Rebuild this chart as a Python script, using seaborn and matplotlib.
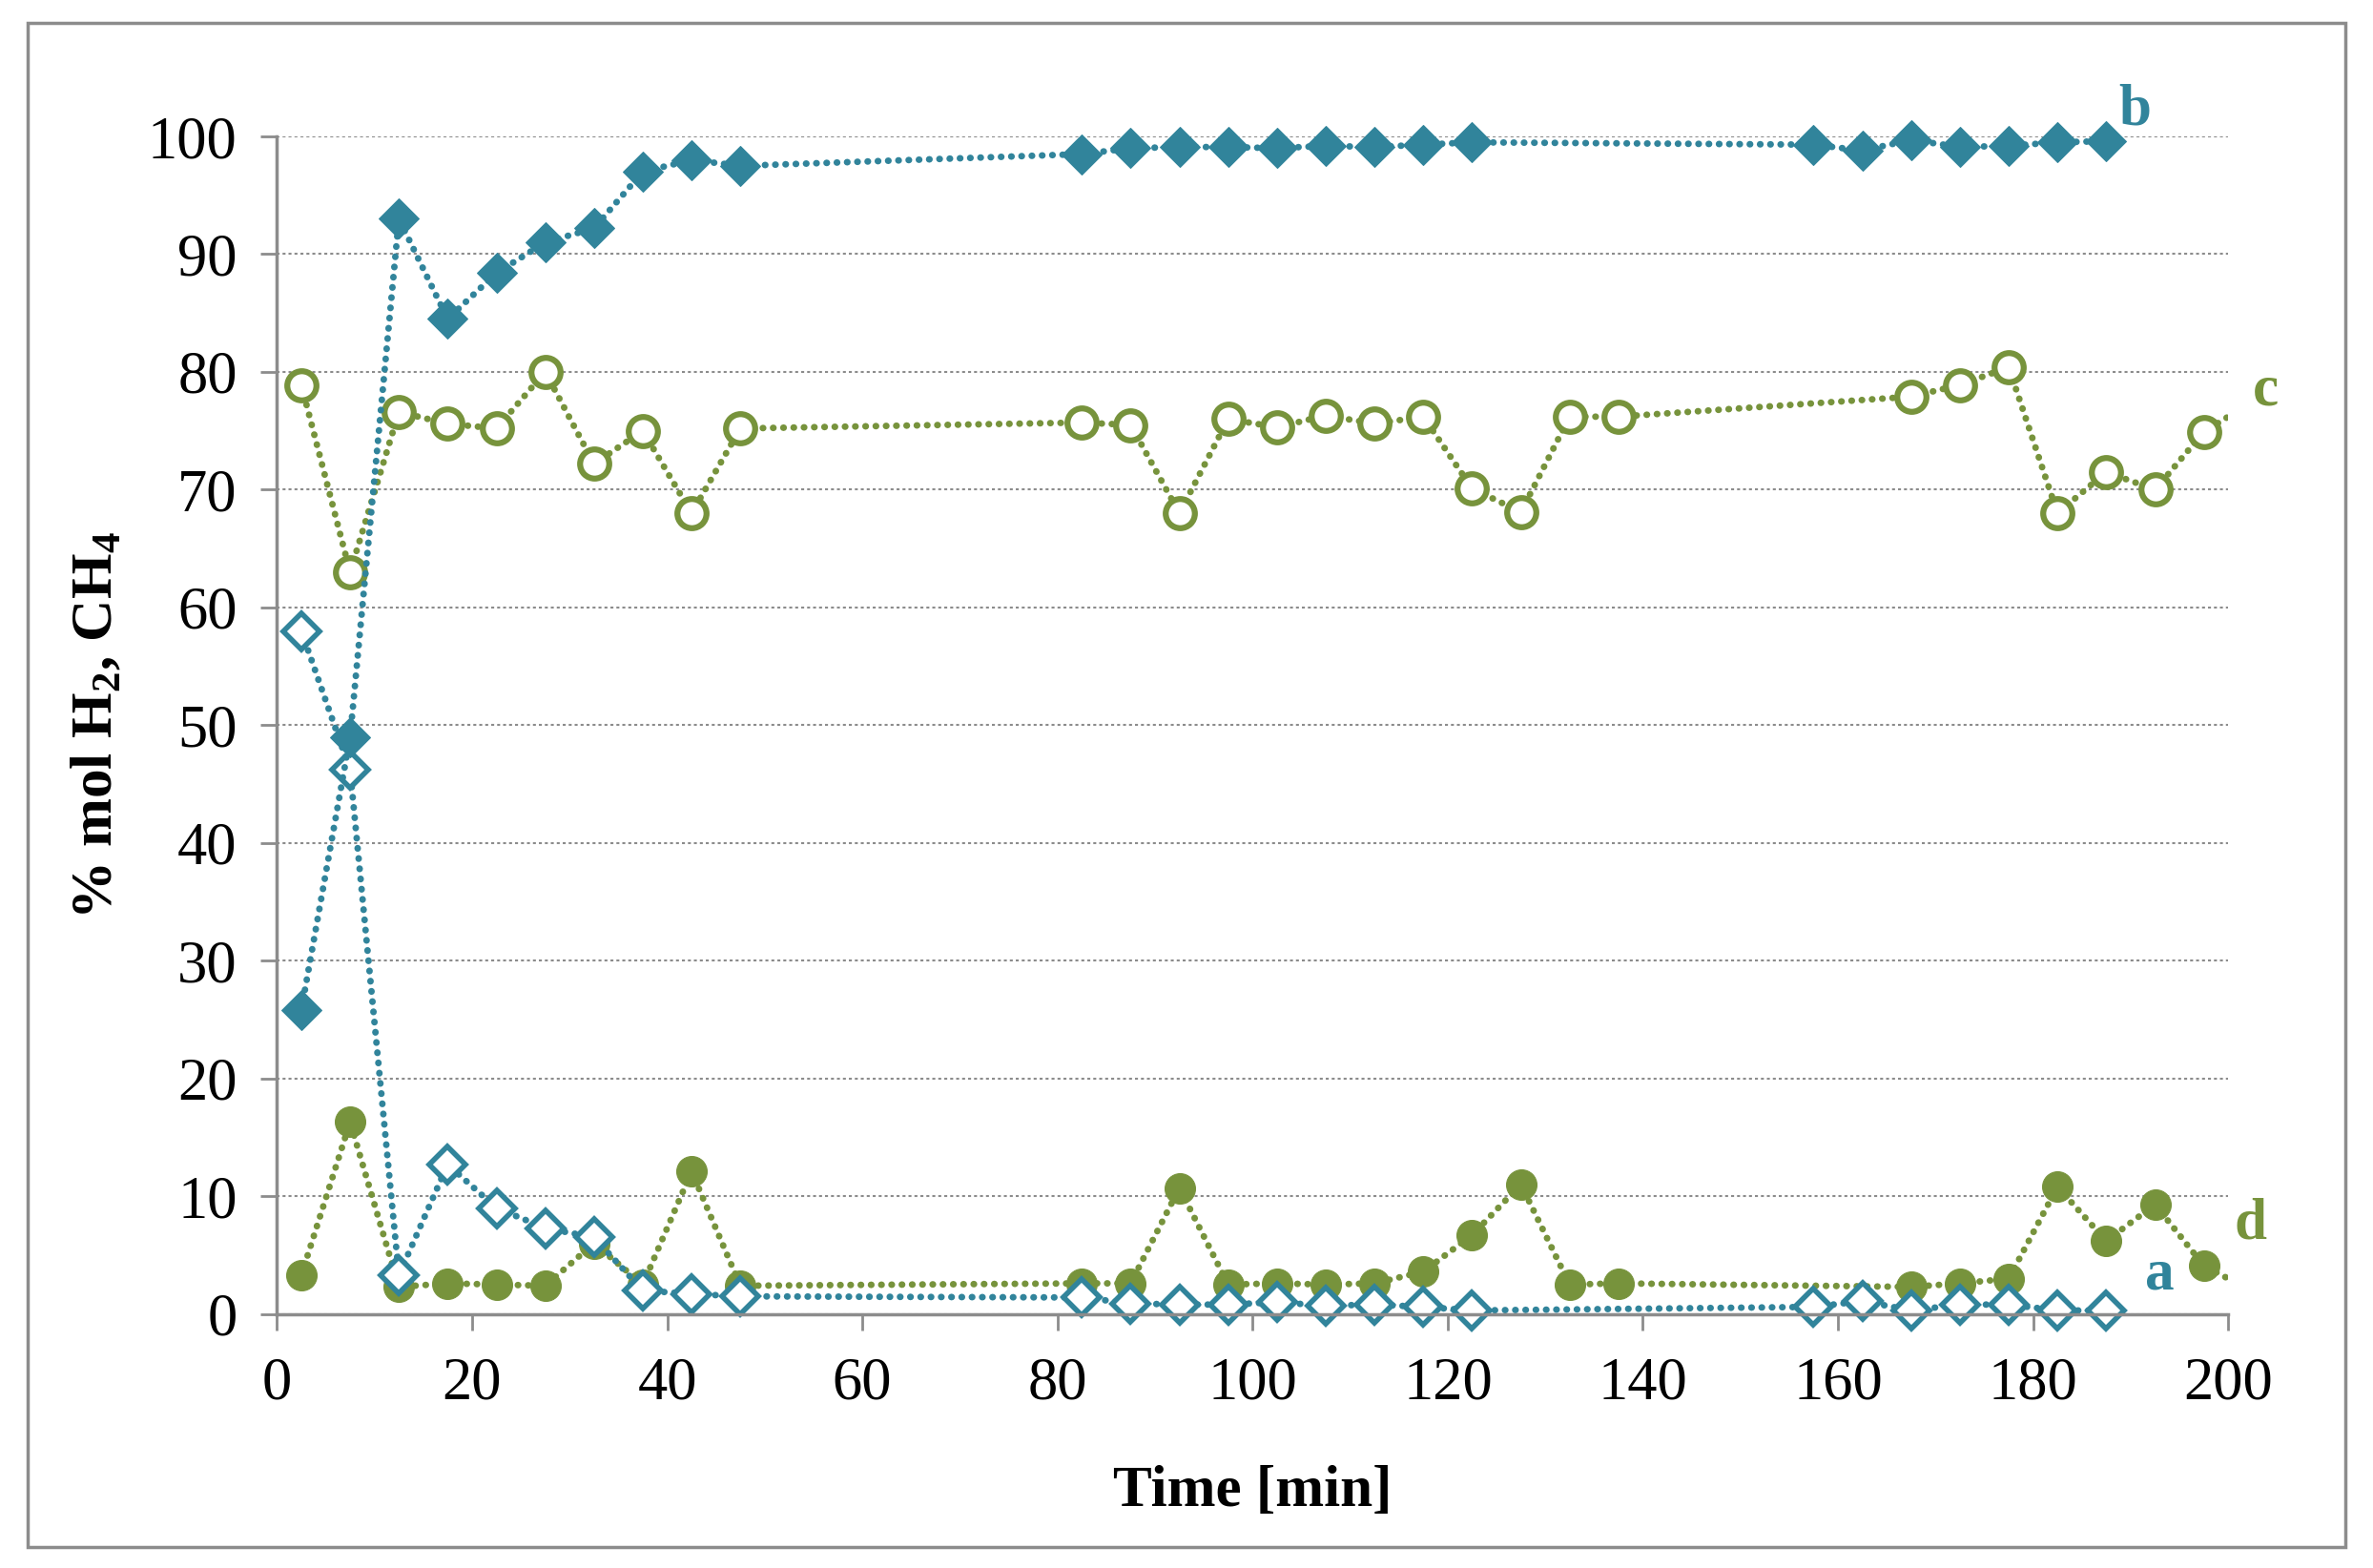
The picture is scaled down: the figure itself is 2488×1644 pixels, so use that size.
import numpy as np
import pandas as pd
import matplotlib.pyplot as plt
import seaborn as sns
from matplotlib.patches import Rectangle

# Data
time_ab = [2.5, 7.5, 12.5, 17.5, 22.5, 27.5, 32.5, 37.5, 42.5, 47.5,
           82.5, 87.5, 92.5, 97.5, 102.5, 107.5, 112.5, 117.5, 122.5,
           157.5, 162.5, 167.5, 172.5, 177.5, 182.5, 187.5]
series_a = [58.0, 46.2, 3.3, 12.7, 9.0, 7.3, 6.5, 2.0, 1.7, 1.5,
            1.4, 0.9, 0.8, 0.8, 1.0, 0.7, 0.8, 0.6, 0.3,
            0.6, 1.1, 0.3, 0.8, 0.8, 0.3, 0.3]
series_b = [25.8, 49.0, 93.0, 84.5, 88.4, 91.0, 92.2, 97.0, 98.0, 97.5,
            98.5, 99.0, 99.1, 99.1, 99.0, 99.2, 99.1, 99.3, 99.5,
            99.3, 98.8, 99.7, 99.1, 99.2, 99.5, 99.6]

time_cd = [2.5, 7.5, 12.5, 17.5, 22.5, 27.5, 32.5, 37.5, 42.5, 47.5,
           82.5, 87.5, 92.5, 97.5, 102.5, 107.5, 112.5, 117.5, 122.5,
           127.5, 132.5, 137.5, 167.5, 172.5, 177.5, 182.5, 187.5,
           192.5, 197.5, 202.5]
series_c = [78.9, 63.0, 76.6, 75.6, 75.2, 80.0, 72.2, 75.0, 68.0, 75.2,
            75.7, 75.5, 68.0, 76.0, 75.3, 76.3, 75.6, 76.2, 70.1,
            68.1, 76.2, 76.2, 77.9, 78.9, 80.4, 68.0, 71.5,
            70.0, 74.9, 77.5]
series_d = [3.3, 16.3, 2.3, 2.6, 2.5, 2.4, 6.0, 2.5, 12.1, 2.4,
            2.6, 2.6, 10.7, 2.5, 2.6, 2.5, 2.6, 3.6, 6.7,
            11.0, 2.5, 2.6, 2.3, 2.6, 3.0, 10.8, 6.2,
            9.3, 4.1, 1.9]

teal = '#31849B'
green = '#77933C'

sns.set_style('white')
plt.rcParams['font.family'] = ['Liberation Serif', 'DejaVu Serif']
plt.rcParams['mathtext.fontset'] = 'custom'
plt.rcParams['mathtext.rm'] = 'Liberation Serif'
plt.rcParams['mathtext.bf'] = 'Liberation Serif:bold'
plt.rcParams['text.color'] = 'black'
plt.rcParams['axes.labelcolor'] = 'black'
plt.rcParams['xtick.labelcolor'] = 'black'
plt.rcParams['ytick.labelcolor'] = 'black'

fig = plt.figure(figsize=(24.88, 16.44), dpi=100)
ax = fig.add_axes([0.1167, 0.162, 0.8223, 0.751])

line_kw = dict(linestyle=(0, (0.05, 1.5)), dash_capstyle='round',
               linewidth=5)

# c: open circles
sns.lineplot(x=time_cd, y=series_c, ax=ax, color=green, marker='o',
             markersize=22, markerfacecolor='white', markeredgecolor=green,
             markeredgewidth=4.5, **line_kw)
# d: filled circles
sns.lineplot(x=time_cd, y=series_d, ax=ax, color=green, marker='o',
             markersize=23, markeredgecolor=green, **line_kw)
# a: open diamonds
sns.lineplot(x=time_ab, y=series_a, ax=ax, color=teal, marker='D',
             markersize=19, markerfacecolor='white', markeredgecolor=teal,
             markeredgewidth=4, **line_kw)
# b: filled diamonds
sns.lineplot(x=time_ab, y=series_b, ax=ax, color=teal, marker='D',
             markersize=21, markeredgecolor=teal, **line_kw)

ax.set_xlim(0, 200)
ax.set_ylim(0, 100)

# clip at the right edge only (markers may spill over top/bottom)
clip_rect = Rectangle((-10, -10), 210, 120, transform=ax.transData)
for ln in ax.lines:
    ln.set_clip_path(clip_rect)

ax.set_xticks(np.arange(0, 201, 20))
ax.set_yticks(np.arange(0, 101, 10))

ax.yaxis.grid(True, color='#8c8c8c', linestyle=(0, (1.5, 1.5)), linewidth=1.5)
ax.xaxis.grid(False)
ax.set_axisbelow(True)

for s in ['top', 'right']:
    ax.spines[s].set_visible(False)
for s in ['left', 'bottom']:
    ax.spines[s].set_color('#8c8c8c')
    ax.spines[s].set_linewidth(2.5)

ax.tick_params(axis='both', which='major', direction='out', length=12,
               width=2, color='#8c8c8c', labelsize=45, left=True, bottom=True)
ax.tick_params(axis='x', pad=20)
ax.tick_params(axis='y', pad=18)

ax.set_xlabel('Time [min]', fontsize=44, fontweight='bold', labelpad=40)
ax.set_ylabel(r'% mol H$_\mathbf{2}$, CH$_\mathbf{4}$', fontsize=44,
              fontweight='bold', labelpad=18)

# Series labels
ax.text(188.8, 102.2, 'b', color=teal, fontsize=44, fontweight='bold',
        ha='left', va='center', clip_on=False)
ax.text(202.5, 78.4, 'c', color=green, fontsize=44, fontweight='bold',
        ha='left', va='center', clip_on=False)
ax.text(200.6, 7.6, 'd', color=green, fontsize=44, fontweight='bold',
        ha='left', va='center', clip_on=False)
ax.text(191.5, 3.3, 'a', color=teal, fontsize=44, fontweight='bold',
        ha='left', va='center', clip_on=False)

fig.patches.append(Rectangle((0.0115, 0.0135), 0.977, 0.972,
                             transform=fig.transFigure, fill=False,
                             edgecolor='#8c8c8c', linewidth=2.5))

fig.savefig('out.png', dpi=100)
